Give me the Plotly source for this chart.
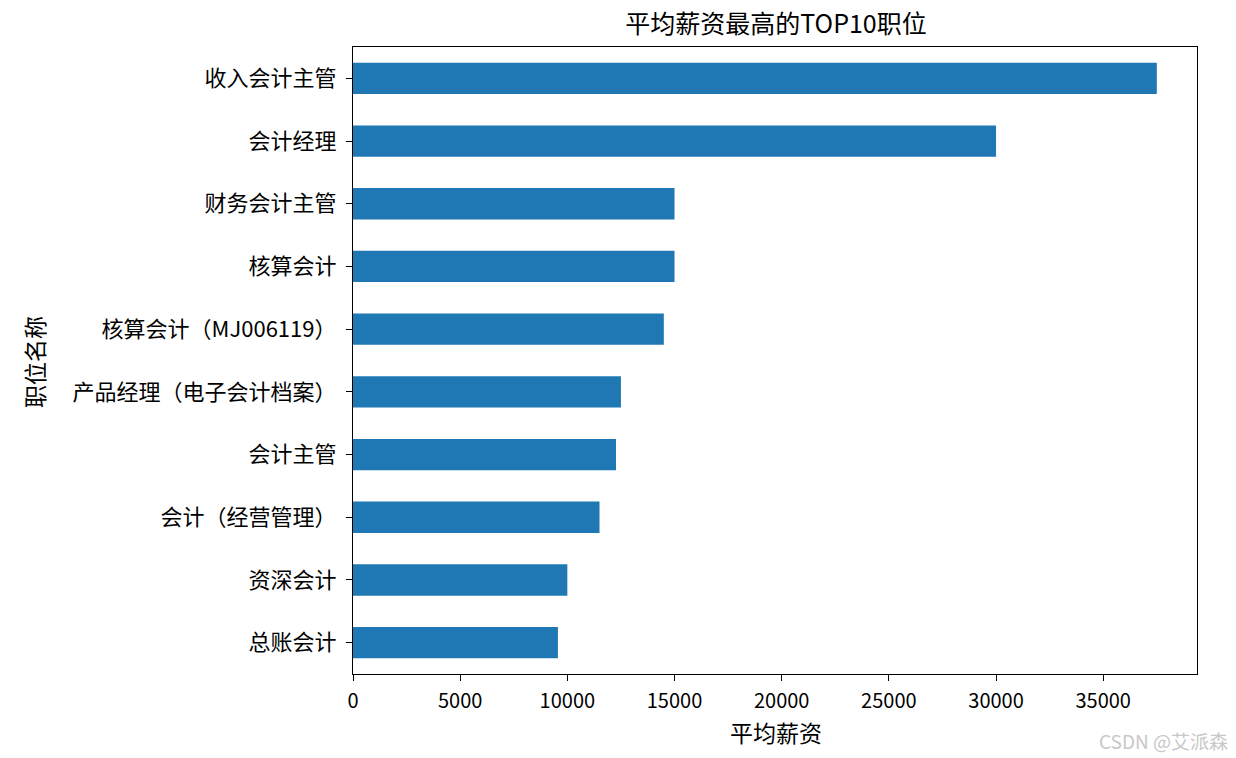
import plotly.graph_objects as go

# Data (top to bottom as shown in the chart)
positions = ["收入会计主管", "会计经理", "财务会计主管", "核算会计", "核算会计（MJ006119）",
             "产品经理（电子会计档案）", "会计主管", "会计（经营管理）", "资深会计", "总账会计"]
salaries = [37500, 30000, 15000, 15000, 14500, 12500, 12270, 11500, 10000, 9560]
x_ticks = [0, 5000, 10000, 15000, 20000, 25000, 30000, 35000]

title_text = "平均薪资最高的TOP10职位"
x_title = "平均薪资"
y_title = "职位名称"
watermark = "CSDN @艾派森"

# plotly draws the first category at the bottom -> reverse
cats = positions[::-1]
vals = salaries[::-1]

FONT = "Noto Sans CJK SC, SimHei, sans-serif"
OFF = 8  # page body margin
W, H = 1236 - OFF, 758 - OFF
L, R, T, B = 353 - OFF, 39, 47 - OFF, 84
PW, PH = W - L - R, H - T - B


def px_x(x):  # page pixel x -> paper coord
    return (x - OFF - L) / PW


def px_y(y):  # page pixel y -> paper coord
    return 1 - (y - OFF - T) / PH


fig = go.Figure(go.Bar(
    x=vals, y=cats, orientation="h", width=0.5,
    marker=dict(color="#1f77b4", line=dict(width=0)),
))

fig.update_layout(
    width=W, height=H,
    margin=dict(l=L, r=R, t=T, b=B, pad=0),
    paper_bgcolor="white", plot_bgcolor="white",
    font=dict(family=FONT, size=20, color="black"),
    showlegend=False,
    title=dict(text=title_text, xref="container", yref="container",
               x=(776 - OFF) / W, xanchor="center",
               y=1 - (24 - OFF) / H, yanchor="middle",
               font=dict(family=FONT, size=25, color="black")),
)

fig.update_xaxes(
    range=[0, max(salaries) * 1.05],
    tickmode="array", tickvals=x_ticks, ticktext=[str(v) for v in x_ticks],
    showgrid=False, zeroline=False,
    showline=True, linecolor="black", linewidth=1.2, mirror=True,
    ticks="outside", ticklen=6, tickwidth=1.2, tickcolor="black",
    tickfont=dict(family=FONT, size=20, color="black"),
    ticklabelstandoff=3,
)
fig.update_yaxes(
    type="category", categoryorder="array", categoryarray=cats,
    range=[-0.5, 9.5],
    showgrid=False, zeroline=False,
    showline=True, linecolor="black", linewidth=1.2, mirror=True,
    ticks="outside", ticklen=6, tickwidth=1.2, tickcolor="black",
    tickfont=dict(family=FONT, size=22, color="black"),
    ticklabelstandoff=5,
)

fig.add_annotation(text=x_title, xref="paper", yref="paper",
                   x=px_x(776), y=px_y(732), xanchor="center", yanchor="middle",
                   showarrow=False, font=dict(family=FONT, size=23, color="black"))
fig.add_annotation(text=y_title, xref="paper", yref="paper",
                   x=px_x(34), y=px_y(362), xanchor="center", yanchor="middle",
                   textangle=-90, showarrow=False,
                   font=dict(family=FONT, size=23, color="black"))
fig.add_annotation(text=watermark, xref="paper", yref="paper",
                   x=px_x(1230), y=px_y(740), xanchor="right", yanchor="middle",
                   showarrow=False, font=dict(family=FONT, size=19, color="#c8c8c8"))

fig.write_html("out.html")
